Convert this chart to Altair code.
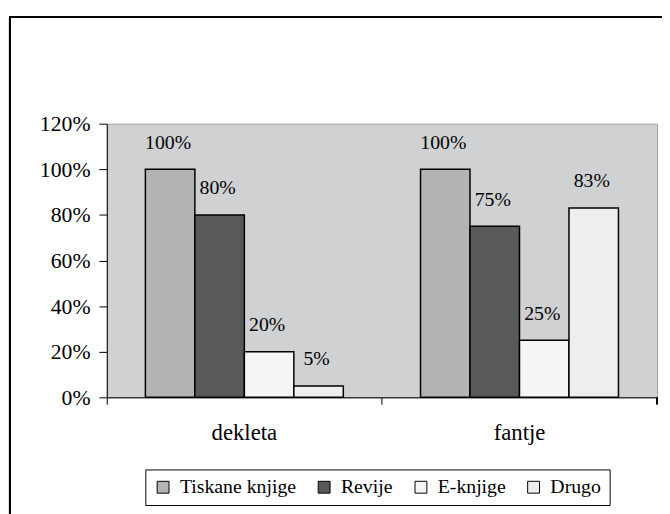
import altair as alt
import pandas as pd

groups = ["dekleta", "fantje"]
series = ["Tiskane knjige", "Revije", "E-knjige", "Drugo"]
dekleta_vals = [1.00, 0.80, 0.20, 0.05]
fantje_vals = [1.00, 0.75, 0.25, 0.83]
colors = ["#b3b3b5", "#58595b", "#f4f5f5", "#eeeeee"]
y_ticks = [0, 0.2, 0.4, 0.6, 0.8, 1.0, 1.2]

rows = []
for g, vals in zip(groups, [dekleta_vals, fantje_vals]):
    for s, v in zip(series, vals):
        rows.append({"group": g, "series": s, "value": v})
df = pd.DataFrame(rows)

W, H = 557, 277
FONT = "Liberation Serif, Tinos, Times New Roman, Times, Nimbus Roman, Noto Serif, DejaVu Serif, serif"

x_enc = alt.X("group:N", sort=groups, title=None,
              scale=alt.Scale(paddingInner=0, paddingOuter=0),
              axis=alt.Axis(bandPosition=0, labelAngle=0,
                            tickSize=7, labelPadding=18, labelFontSize=23,
                            domainColor="black", tickColor="black",
                            labelColor="black", labelFont=FONT))
xo_enc = alt.XOffset("series:N", sort=series,
                     scale=alt.Scale(paddingInner=0, paddingOuter=0.78))
y_enc = alt.Y("value:Q", title=None,
              scale=alt.Scale(domain=[0, 1.2], nice=False),
              axis=alt.Axis(values=y_ticks, format=".0%", grid=False,
                            tickSize=8, labelPadding=9, labelFontSize=22,
                            domainColor="black", tickColor="black",
                            labelColor="black", labelFont=FONT))

bars = alt.Chart(df).mark_bar(stroke="black", strokeWidth=1.5).encode(
    x=x_enc, xOffset=xo_enc, y=y_enc,
    color=alt.Color("series:N", sort=series,
                    scale=alt.Scale(domain=series, range=colors),
                    legend=alt.Legend(title=None, orient="none", legendX=39, legendY=350,
                                      direction="horizontal", columns=4,
                                      columnPadding=18, padding=8,
                                      strokeColor="black", fillColor="white",
                                      symbolType="square", symbolSize=144,
                                      symbolStrokeColor="black", symbolStrokeWidth=1,
                                      labelFont=FONT, labelFontSize=20,
                                      labelColor="black", labelOffset=7)),
)

labels = alt.Chart(df).mark_text(font=FONT, fontSize=20, color="black",
                                 baseline="middle", dy=-27, dx=-2).encode(
    x=alt.X("group:N", sort=groups), xOffset=xo_enc, y=alt.Y("value:Q"),
    text=alt.Text("value:Q", format=".0%"),
)

end_tick = alt.Chart(df).mark_rule(color="black", strokeWidth=1).encode(
    x=alt.value(W), y=alt.value(H), y2=alt.value(H + 7))

frame = alt.Chart(df).mark_rect(filled=False, stroke="black", strokeWidth=2).encode(
    x=alt.value(-98), x2=alt.value(1200), y=alt.value(-108), y2=alt.value(1200))

chart = alt.layer(bars, labels, end_tick, frame).properties(
    width=W, height=H,
    autosize=alt.AutoSizeParams(type="none"),
    padding={"left": 100, "top": 114, "right": 5, "bottom": 115},
    background="white",
).configure_view(fill="#d0d1d3", stroke="#a0a0a2", strokeWidth=1)

chart.save("out.html", embed_options={"renderer": "svg", "actions": False})
